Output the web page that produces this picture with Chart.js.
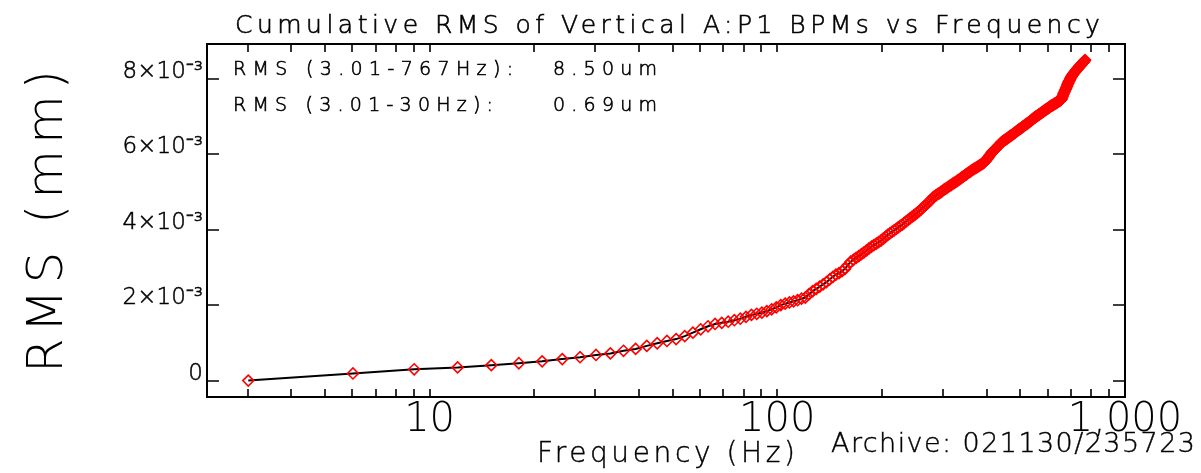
<!DOCTYPE html>
<html><head><meta charset="utf-8">
<script src="https://cdn.jsdelivr.net/npm/chart.js@4.4.1/dist/chart.umd.min.js"></script>
<style>html,body{margin:0;padding:0;background:#fff;overflow:hidden}canvas{display:block}</style>
</head><body>
<canvas id="c" width="1201" height="473"></canvas>
<script>
// ---------------- data ----------------
const freqHz = [
3.01,6.02,9.03,12.04,15.05,18.06,21.07,24.08,27.09,30.10,
33.11,36.12,39.13,42.14,45.15,48.16,51.17,54.18,57.19,60.20,
63.21,66.22,69.23,72.24,75.25,78.26,81.27,84.28,87.29,90.30,
93.31,96.32,99.33,102.34,105.35,108.36,111.37,114.38,117.39,120.40,
123.41,126.42,129.43,132.44,135.45,138.46,141.47,144.48,147.49,150.50,
153.51,156.52,159.53,162.54,165.55,168.56,171.57,174.58,177.59,180.60,
183.61,186.62,189.63,192.64,195.65,198.66,201.67,204.68,207.69,210.70,
213.71,216.72,219.73,222.74,225.75,228.76,231.77,234.78,237.79,240.80,
243.81,246.82,249.83,252.84,255.85,258.86,261.87,264.88,267.89,270.90,
273.91,276.92,279.93,282.94,285.95,288.96,291.97,294.98,297.99,301.00,
304.01,307.02,310.03,313.04,316.05,319.06,322.07,325.08,328.09,331.10,
334.11,337.12,340.13,343.14,346.15,349.16,352.17,355.18,358.19,361.20,
364.21,367.22,370.23,373.24,376.25,379.26,382.27,385.28,388.29,391.30,
394.31,397.32,400.33,403.34,406.35,409.36,412.37,415.38,418.39,421.40,
424.41,427.42,430.43,433.44,436.45,439.46,442.47,445.48,448.49,451.50,
454.51,457.52,460.53,463.54,466.55,469.56,472.57,475.58,478.59,481.60,
484.61,487.62,490.63,493.64,496.65,499.66,502.67,505.68,508.69,511.70,
514.71,517.72,520.73,523.74,526.75,529.76,532.77,535.78,538.79,541.80,
544.81,547.82,550.83,553.84,556.85,559.86,562.87,565.88,568.89,571.90,
574.91,577.92,580.93,583.94,586.95,589.96,592.97,595.98,598.99,602.00,
605.01,608.02,611.03,614.04,617.05,620.06,623.07,626.08,629.09,632.10,
635.11,638.12,641.13,644.14,647.15,650.16,653.17,656.18,659.19,662.20,
665.21,668.22,671.23,674.24,677.25,680.26,683.27,686.28,689.29,692.30,
695.31,698.32,701.33,704.34,707.35,710.36,713.37,716.38,719.39,722.40,
725.41,728.42,731.43,734.44,737.45,740.46,743.47,746.48,749.49,752.50,
755.51,758.52,761.53,764.54,767.55
];
// cumulative RMS in micrometres
const rmsUm = [
0.01,0.20,0.31,0.36,0.42,0.47,0.52,0.58,0.63,0.69,
0.73,0.80,0.85,0.93,1.00,1.06,1.11,1.19,1.28,1.37,
1.45,1.51,1.54,1.57,1.61,1.65,1.70,1.75,1.78,1.81,
1.85,1.90,1.95,2.01,2.05,2.08,2.11,2.14,2.18,2.21,
2.30,2.38,2.44,2.50,2.56,2.62,2.69,2.76,2.82,2.86,
2.91,2.97,3.07,3.16,3.21,3.26,3.31,3.36,3.41,3.46,
3.51,3.56,3.60,3.64,3.68,3.72,3.77,3.82,3.87,3.91,
3.95,3.99,4.03,4.07,4.11,4.14,4.19,4.23,4.27,4.31,
4.35,4.38,4.42,4.46,4.50,4.54,4.59,4.63,4.67,4.71,
4.76,4.80,4.85,4.89,4.92,4.95,4.97,5.00,5.03,5.06,
5.09,5.11,5.14,5.17,5.19,5.22,5.24,5.27,5.29,5.32,
5.34,5.37,5.40,5.42,5.45,5.47,5.50,5.52,5.54,5.57,
5.59,5.61,5.63,5.65,5.67,5.69,5.71,5.73,5.75,5.77,
5.80,5.83,5.87,5.91,5.95,5.99,6.03,6.07,6.10,6.12,
6.15,6.18,6.21,6.24,6.27,6.30,6.33,6.35,6.37,6.39,
6.40,6.42,6.44,6.46,6.48,6.50,6.51,6.53,6.55,6.57,
6.59,6.61,6.63,6.65,6.67,6.68,6.70,6.72,6.74,6.75,
6.77,6.79,6.81,6.82,6.84,6.86,6.88,6.89,6.91,6.93,
6.95,6.97,6.98,7.00,7.01,7.03,7.04,7.06,7.07,7.09,
7.10,7.12,7.13,7.15,7.16,7.18,7.19,7.21,7.22,7.23,
7.25,7.26,7.28,7.29,7.30,7.31,7.32,7.34,7.35,7.36,
7.37,7.38,7.40,7.41,7.42,7.43,7.45,7.46,7.50,7.55,
7.60,7.64,7.68,7.72,7.76,7.80,7.85,7.89,7.93,7.96,
8.00,8.03,8.06,8.09,8.11,8.14,8.16,8.18,8.20,8.22,
8.24,8.26,8.28,8.30,8.32,8.34,8.35,8.37,8.39,8.41,
8.43,8.45,8.46,8.48,8.50
];
const xTickValues = [3,4,5,6,7,8,9,10,20,30,40,50,60,70,80,90,100,200,300,400,500,600,700,800,900,1000];
const xLabelValues = [10,100,1000];
const xLabelTexts = ['10','100','1,000'];
const yTickValues = [0,0.002,0.004,0.006,0.008];
const yTickLabels = ['0','2×10⁻³','4×10⁻³','6×10⁻³','8×10⁻³'];
const titleText = 'Cumulative RMS of Vertical A:P1 BPMs vs Frequency';
const annotLabels = ['RMS (3.01-767Hz):','RMS (3.01-30Hz):'];
const annotValues = ['8.50um','0.69um'];
const xTitle = 'Frequency (Hz)';
const yTitle = 'RMS (mm)';
const archiveText = 'Archive: 021130/235723';

// ---------------- drawing ----------------
const FF = "'DejaVu Sans', 'Liberation Sans', sans-serif";
const W = 200;

function drawSpaced(ctx, text, x, y, size, width, sw) {
  ctx.font = W + ' ' + size + 'px ' + FF;
  ctx.letterSpacing = '0px';
  const w = ctx.measureText(text).width;
  const ls = text.length > 1 ? (width - w) / (text.length - 1) : 0;
  ctx.letterSpacing = ls.toFixed(2) + 'px';
  ctx.textAlign = 'left';
  ctx.textBaseline = 'alphabetic';
  ctx.fillStyle = '#000';
  ctx.fillText(text, x, y);
  if (sw) {
    ctx.lineWidth = sw;
    ctx.strokeStyle = '#000';
    ctx.strokeText(text, x, y);
  }
  ctx.letterSpacing = '0px';
}

const framePlugin = {
  id: 'frame',
  afterDraw(chart) {
    const ctx = chart.ctx, a = chart.chartArea;
    const xs = chart.scales.x, ys = chart.scales.y;
    ctx.save();
    ctx.strokeStyle = '#000';
    ctx.lineWidth = 2;
    ctx.strokeRect(a.left, a.top, a.right - a.left, a.bottom - a.top);
    ctx.lineWidth = 1.6;
    ctx.beginPath();
    xs.ticks.forEach(t => {
      const px = Math.round(xs.getPixelForValue(t.value));
      ctx.moveTo(px, a.bottom); ctx.lineTo(px, a.bottom - 8);
      ctx.moveTo(px, a.top); ctx.lineTo(px, a.top + 8);
    });
    ys.ticks.forEach(t => {
      const py = Math.round(ys.getPixelForValue(t.value));
      ctx.moveTo(a.left, py); ctx.lineTo(a.left + 12, py);
      ctx.moveTo(a.right, py); ctx.lineTo(a.right - 12, py);
    });
    ctx.stroke();

    // texts
    drawSpaced(ctx, titleText, 235, 33, 25, 865, 0.6);
    drawSpaced(ctx, annotLabels[0], 233, 75, 19, 280, 0.6);
    drawSpaced(ctx, annotValues[0], 553, 75, 19, 104, 0.6);
    drawSpaced(ctx, annotLabels[1], 233, 111, 19, 260, 0.6);
    drawSpaced(ctx, annotValues[1], 553, 111, 19, 104, 0.6);
    drawSpaced(ctx, xTitle, 537, 462, 28, 258, 0.4);
    drawSpaced(ctx, archiveText, 831, 452, 27, 364, 0.4);
    ctx.save();
    ctx.translate(62, 373);
    ctx.rotate(-Math.PI / 2);
    drawSpaced(ctx, yTitle, 0, 0, 50, 303, 0);
    ctx.restore();
    ctx.restore();
  }
};

const points = freqHz.map((f, i) => ({ x: f, y: rmsUm[i] / 1000 }));

new Chart(document.getElementById('c').getContext('2d'), {
  type: 'line',
  data: {
    datasets: [{
      data: points,
      borderColor: '#000',
      borderWidth: 2,
      tension: 0,
      fill: false,
      pointStyle: 'rectRot',
      pointRadius: 5.5,
      pointBorderColor: '#ff0000',
      pointBackgroundColor: 'rgba(255,255,255,0)',
      pointBorderWidth: 1.6
    }]
  },
  options: {
    responsive: false,
    animation: false,
    devicePixelRatio: 1,
    layout: { padding: { left: 0, right: 76, top: 44, bottom: 0 } },
    plugins: { legend: { display: false }, title: { display: false }, tooltip: { enabled: false } },
    scales: {
      x: {
        type: 'logarithmic',
        min: 2.29, max: 1000,
        afterBuildTicks: s => { s.ticks = xTickValues.map(v => ({ value: v })); },
        afterFit: s => { s.height = 76; },
        grid: { display: false, drawTicks: false, tickLength: 0 },
        border: { display: false },
        ticks: {
          autoSkip: false, maxRotation: 0, minRotation: 0, padding: 0,
          color: '#000',
          font: { family: FF, size: 40, weight: W },
          callback: (v) => { const k = xLabelValues.indexOf(v); return k >= 0 ? xLabelTexts[k] : ''; }
        }
      },
      y: {
        type: 'linear',
        min: -0.000424, max: 0.008927,
        afterBuildTicks: s => { s.ticks = yTickValues.map(v => ({ value: v })); },
        afterFit: s => { s.width = 207; },
        grid: { display: false, drawTicks: false, tickLength: 0 },
        border: { display: false },
        ticks: {
          padding: 4, labelOffset: -7,
          color: '#000',
          textStrokeColor: '#000', textStrokeWidth: 0.5,
          font: { family: FF, size: 23, weight: W },
          callback: (v, i) => yTickLabels[i]
        }
      }
    }
  },
  plugins: [framePlugin]
});
</script>
</body></html>
